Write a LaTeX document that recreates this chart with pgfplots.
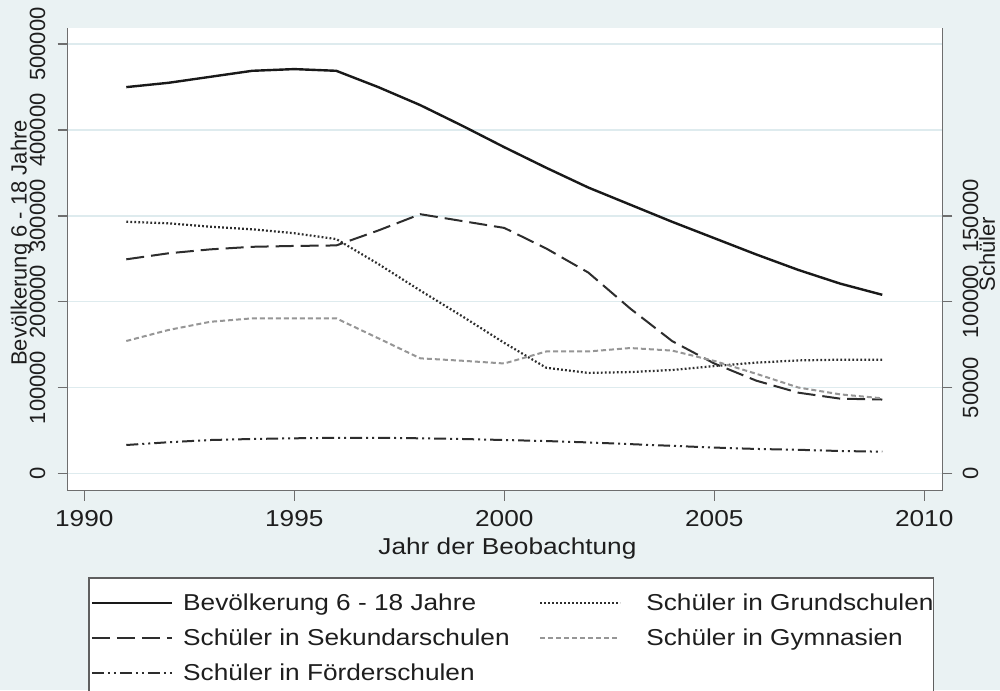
\documentclass[border=0pt]{standalone}
\usepackage{pgfplots}
\pgfplotsset{compat=1.18}
\usepackage{fontspec}
\setmainfont{Liberation Sans}[FakeStretch=1.14]
\newfontfamily\rotfont{Liberation Sans}
\definecolor{bg}{RGB}{234,242,243}
\definecolor{gridc}{RGB}{222,235,238}
\definecolor{axc}{RGB}{110,110,110}
\definecolor{legc}{RGB}{95,95,95}
\definecolor{txt}{RGB}{30,30,30}
\definecolor{ln}{RGB}{25,25,25}
\definecolor{ln2}{RGB}{45,45,45}
\definecolor{gym}{RGB}{150,150,150}
\newcommand\hfnt{\color{txt}\fontsize{11.5pt}{14pt}\selectfont}
\newcommand\vfnt{\color{txt}\rotfont\fontsize{11pt}{13pt}\selectfont}

\pgfplotstableread{
year bev
1991 450000
1992 455000
1993 462000
1994 469000
1995 471000
1996 469000
1997 450000
1998 429000
1999 405000
2000 380000
2001 356000
2002 333000
2003 313000
2004 293000
2005 274000
2006 255000
2007 237000
2008 221000
2009 208000
}\bev

\pgfplotstableread{
year grund sek gym foerder
1991 146600 124700 77100 16500
1992 145700 128200 83500 18100
1993 143700 130500 88300 19400
1994 142200 132000 90300 20000
1995 139900 132500 90300 20400
1996 136500 132800 90300 20700
1997 122000 141500 78700 20700
1998 106500 151000 67000 20400
1999 91500 147000 65600 20000
2000 76000 143000 64000 19400
2001 61500 131000 71000 18800
2002 58500 117000 71000 18000
2003 59000 96000 73000 17000
2004 60200 77000 71500 16000
2005 62500 64000 65500 15000
2006 64500 54000 58000 14200
2007 65800 47000 50000 13700
2008 66200 43500 46000 13000
2009 66200 43000 43700 12600
}\schueler

\pgfplotsset{
  common/.style={
    scale only axis, width=437.3pt, height=231.2pt,
    at={(33.85pt,-245.35pt)}, anchor=south west,
    xmin=1989.605, xmax=2010.43,
    scaled y ticks=false, scaled x ticks=false,
    tick align=outside, major tick length=5pt,
    axis line style={axc, line width=0.75pt, -},
    every tick/.style={axc, line width=0.75pt},
  },
  sbev/.style={ln, line width=1.2pt, line join=round},
  ssek/.style={ln2, line width=1pt, dash pattern=on 9pt off 3.5pt, line join=round},
  sgrund/.style={ln2, line width=1.1pt, dash pattern=on 0.9pt off 1.1pt, line join=round},
  sgym/.style={gym, line width=1pt, dash pattern=on 2.5pt off 1.5pt, line join=round},
  sfoer/.style={ln2, line width=1pt, dash pattern=on 6pt off 2pt on 1pt off 2pt on 1pt off 2pt, line join=round},
}

\begin{document}
\begin{tikzpicture}
\fill[bg] (0,0) rectangle (500pt,-345pt);
\useasboundingbox (0,0) rectangle (500pt,-345pt);
\begin{axis}[common,
  axis x line*=bottom, axis y line*=left,
  axis background/.style={fill=white},
  ymin=-20280, ymax=518650,
  xtick={1990,1995,2000,2005,2010},
  xticklabels={1990,1995,2000,2005,2010},
  ytick={0,100000,200000,300000,400000,500000},
  yticklabels={0,100000,200000,300000,400000,500000},
  ymajorgrids, grid style={gridc, line width=0.8pt},
  xticklabel style={font=\hfnt, anchor=north, inner xsep=0pt, inner ysep=4.5pt},
  yticklabel style={font=\vfnt, rotate=90, anchor=south, inner xsep=0pt, inner ysep=6pt},
  xlabel={Jahr der Beobachtung},
  xlabel style={font=\hfnt, at={(axis description cs:0.5028,-0.1386)}, anchor=base},
  ylabel={Bevölkerung 6 - 18 Jahre},
  every axis y label/.style={font=\vfnt, at={(axis description cs:-0.0534,0.5357)}, rotate=90, anchor=center},
]
\addplot[sbev] table[x=year, y=bev] {\bev};
\end{axis}
\begin{axis}[common,
  axis x line=none, axis y line*=right,
  ymin=-10140, ymax=259325,
  ytick={0,50000,100000,150000},
  yticklabels={0,50000,100000,150000},
  yticklabel style={font=\vfnt, rotate=90, anchor=north, inner xsep=0pt, inner ysep=5pt},
  ylabel={Schüler},
  every axis y label/.style={font=\vfnt, at={(axis description cs:1.0511,0.5119)}, rotate=90, anchor=center},
  legend columns=2,
  legend cell align=left,
  legend image code/.code={\draw[#1] (0pt,0pt) -- (40pt,0pt); \path (45pt,0pt);},
  legend style={at={(0.0232,-0.1866)}, anchor=north west, draw=legc, line width=0.8pt, fill=white,
    inner xsep=1pt, inner ysep=4pt, column sep=0pt, row sep=0pt,
    nodes={inner sep=0pt, text height=12.5pt, text depth=5pt, font=\hfnt}},
]
\addlegendimage{sbev}
\addlegendentry{\makebox[178pt][l]{Bevölkerung 6 - 18 Jahre}}
\addplot[sgrund] table[x=year, y=grund] {\schueler};
\addlegendentry{\makebox[150pt][l]{\hspace*{7.5pt}Schüler in Grundschulen}}
\addplot[ssek] table[x=year, y=sek] {\schueler};
\addlegendentry{\makebox[178pt][l]{Schüler in Sekundarschulen}}
\addplot[sgym] table[x=year, y=gym] {\schueler};
\addlegendentry{\makebox[150pt][l]{\hspace*{7.5pt}Schüler in Gymnasien}}
\addplot[sfoer] table[x=year, y=foerder] {\schueler};
\addlegendentry{\makebox[178pt][l]{Schüler in Förderschulen}}
\end{axis}
\end{tikzpicture}
\end{document}
